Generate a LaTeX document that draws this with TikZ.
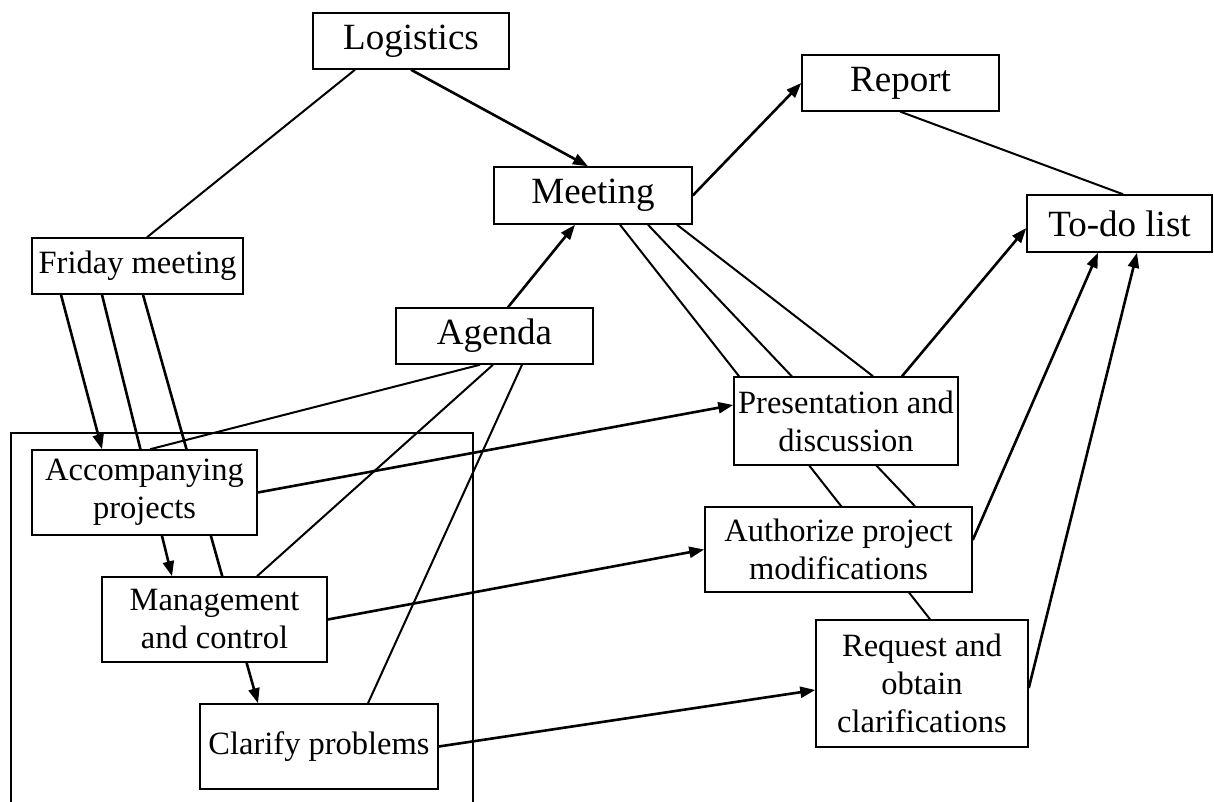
\documentclass[tikz,border=0pt]{standalone}
\usepackage{fontspec}
\setmainfont{Liberation Serif}
\usetikzlibrary{arrows.meta,backgrounds}

\begin{document}
\begin{tikzpicture}[
    x = 1pt, y = -1pt,
    box/.style = {draw, fill=white, line width=1.5pt, inner sep=0pt, align=center},
    big/.style = {box, font=\fontsize{37}{44}\selectfont},
    small/.style = {box, font=\fontsize{32.5}{38}\selectfont},
    link/.style = {line width=2pt},
    arr/.style = {line width=2.6pt, -{Triangle[length=15pt,width=11pt]}}]

\useasboundingbox (0,0) rectangle (1214,802);

\path (411,41) node[big, minimum width=196pt, minimum height=56pt] (logi) {Logistics}
      (900.5,83) node[big, minimum width=197pt, minimum height=56pt] (report) {Report}
      (593,195.5) node[big, minimum width=198pt, minimum height=57pt] (meet) {Meeting}
      (1119.5,223.5) node[big, minimum width=185pt, minimum height=57pt] (todo) {To-do list}
      (137.5,266) node[small, minimum width=211pt, minimum height=56pt] (friday) {Friday meeting}
      (494.5,336) node[big, minimum width=197pt, minimum height=56pt] (agenda) {Agenda}
      (846,421) node[small, minimum width=224pt, minimum height=88pt] (pres) {Presentation and\\discussion}
      (144.5,492.5) node[small, minimum width=225pt, minimum height=85pt] (accomp) {Accompanying\\projects}
      (838.5,549.5) node[small, minimum width=267pt, minimum height=85pt] (auth) {Authorize project\\modifications}
      (214.5,619.5) node[small, minimum width=225pt, minimum height=85pt] (mgmt) {Management\\and control}
      (922,683.5) node[small, minimum width=212pt, minimum height=127pt] (request) {Request and\\obtain\\clarifications}
      (319,746.5) node[small, minimum width=238pt, minimum height=85pt] (clarify) {Clarify problems};

\begin{scope}[on background layer]
\draw[line width=1.5pt] (11,802) |- (473,433) -- (473,802);
\draw[link] ([xshift=-56pt]logi.south) -- ([xshift=9.5pt]friday.north);
\draw[arr] (logi.south) -- ([xshift=-5pt]meet.north);
\draw[arr] (meet.east) -- (report.west);
\draw[link] (report.south) -- ([xshift=3.5pt]todo.north);
\draw[arr] ([xshift=-76.5pt]friday.south) -- ([xshift=-42.5pt]accomp.north);
\draw[arr] ([xshift=-35.5pt]friday.south) -- ([xshift=-42.5pt]mgmt.north);
\draw[arr] ([xshift=5.5pt]friday.south) -- ([xshift=-61pt]clarify.north);
\draw[arr] ([xshift=13.5pt]agenda.north) -- ([xshift=-18pt]meet.south);
\draw[link] ([xshift=-14.5pt]agenda.south) -- ([xshift=5.5pt]accomp.north);
\draw[link] ([xshift=-1.5pt]agenda.south) -- ([xshift=42.5pt]mgmt.north);
\draw[link] ([xshift=27.5pt]agenda.south) -- ([xshift=49pt]clarify.north);
\draw[link] ([xshift=84pt]meet.south) -- ([xshift=27pt]pres.north);
\draw[link] ([xshift=55pt]meet.south) -- ([xshift=76.5pt]auth.north);
\draw[link] ([xshift=27pt]meet.south) -- ([xshift=8pt]request.north);
\draw[arr] (accomp.east) -- ([yshift=16pt]pres.west);
\draw[arr] (mgmt.east) -- (auth.west);
\draw[arr] (clarify.east) -- ([yshift=-6.5pt]request.west);
\draw[arr] ([xshift=56pt]pres.north) -- ([yshift=-4.5pt]todo.west);
\draw[arr] ([yshift=9.5pt]auth.east) -- ([xshift=-21.5pt]todo.south);
\draw[arr] ([yshift=-4.5pt]request.east) -- ([xshift=17.5pt]todo.south);
\end{scope}
\end{tikzpicture}
\end{document}
